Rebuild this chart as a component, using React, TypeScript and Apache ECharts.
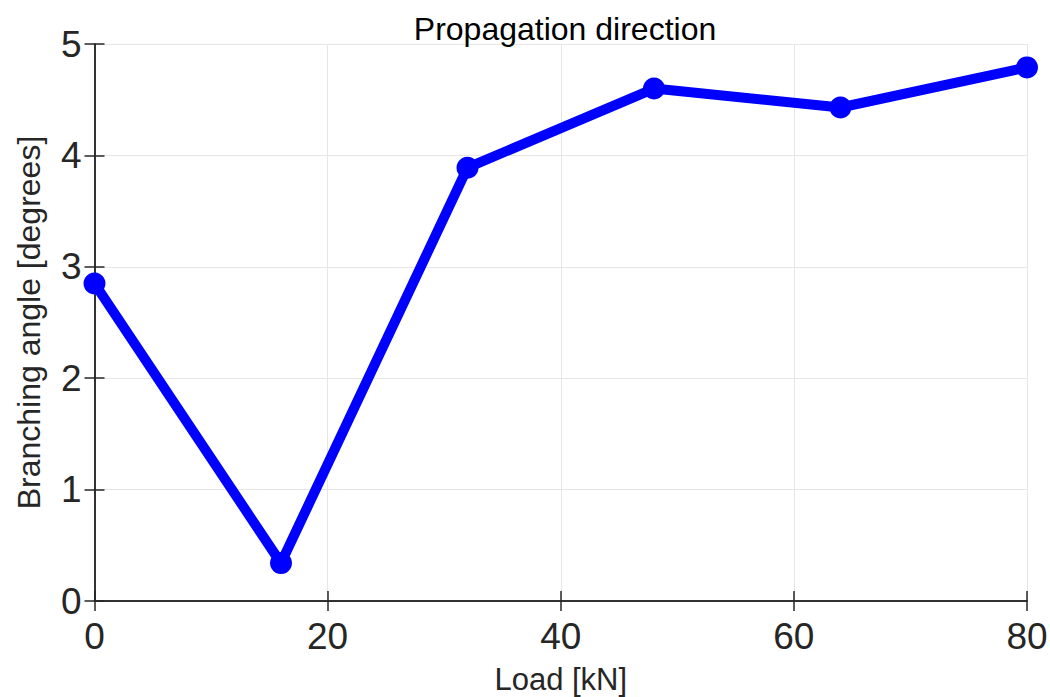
import React, { useEffect, useRef } from "react";
import * as echarts from "echarts";

// Load steps [kN] and measured branching angle [degrees]
const loads: number[] = [0, 16, 32, 48, 64, 80];
const angles: number[] = [2.85, 0.34, 3.89, 4.6, 4.43, 4.79];

const xTicks = { min: 0, max: 80, interval: 20 };
const yTicks = { min: 0, max: 5, interval: 1 };

const FONT = "Liberation Sans, Arial, Helvetica, sans-serif";
const AXIS_COLOR = "#262626";

export default function App() {
  const ref = useRef<HTMLDivElement>(null);

  useEffect(() => {
    if (!ref.current) return;
    const chart = echarts.init(ref.current, undefined, { renderer: "svg" });
    const plainAxis = {
      axisLine: { show: true, lineStyle: { color: AXIS_COLOR, width: 1.5 } },
      axisTick: { show: true, inside: true, length: 10, lineStyle: { color: AXIS_COLOR, width: 1.5 } },
    };
    chart.setOption({
      animation: false,
      backgroundColor: "#ffffff",
      title: {
        text: "Propagation direction",
        left: 560,
        textAlign: "center",
        top: 8,
        textStyle: {
          fontFamily: FONT,
          fontSize: 32,
          lineHeight: 32,
          fontWeight: "normal",
          color: "#000000",
        },
      },
      grid: { left: 94.5, right: 23, top: 44, bottom: 96, outerBoundsMode: "none" },
      xAxis: [
        {
          type: "value",
          ...xTicks,
          position: "bottom",
          name: "Load [kN]",
          nameLocation: "middle",
          nameGap: 63,
          nameTextStyle: { fontFamily: FONT, fontSize: 31, lineHeight: 31, color: AXIS_COLOR },
          ...plainAxis,
          axisLabel: { fontFamily: FONT, fontSize: 37, color: AXIS_COLOR, margin: 17 },
          splitLine: { show: true, lineStyle: { color: "#e6e6e6", width: 1 } },
        },
        {
          type: "value",
          ...xTicks,
          position: "top",
          ...plainAxis,
          axisLabel: { show: false },
          splitLine: { show: false },
        },
      ],
      yAxis: [
        {
          type: "value",
          ...yTicks,
          position: "left",
          name: "Branching angle [degrees]",
          nameLocation: "middle",
          nameGap: 50,
          nameTextStyle: { fontFamily: FONT, fontSize: 32, color: AXIS_COLOR },
          ...plainAxis,
          axisLabel: { fontFamily: FONT, fontSize: 37, color: AXIS_COLOR, margin: 13 },
          splitLine: { show: true, lineStyle: { color: "#e6e6e6", width: 1 } },
        },
        {
          type: "value",
          ...yTicks,
          position: "right",
          ...plainAxis,
          axisLabel: { show: false },
          splitLine: { show: false },
        },
      ],
      series: [
        {
          type: "line",
          data: loads.map((x, i) => [x, angles[i]]),
          lineStyle: { color: "#0000ff", width: 10 },
          itemStyle: { color: "#0000ff" },
          symbol: "circle",
          symbolSize: 22,
          showSymbol: true,
          clip: false,
        },
      ],
    });
    return () => chart.dispose();
  }, []);

  return <div ref={ref} style={{ width: 1050, height: 697, position: "absolute", left: 0, top: 0 }} />;
}
